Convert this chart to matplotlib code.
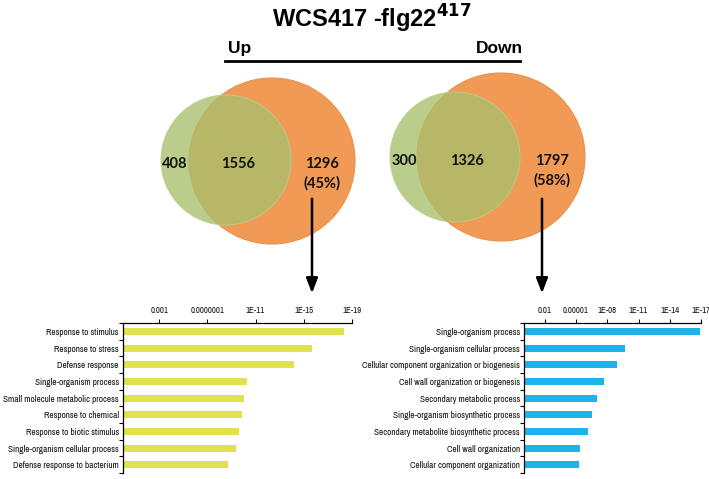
import matplotlib
matplotlib.use("Agg")
import matplotlib.pyplot as plt
from matplotlib.patches import Circle
from matplotlib import font_manager

# Venn counts
up_counts = [408, 1556, 1296]
up_pct = "(45%)"
down_counts = [300, 1326, 1797]
down_pct = "(58%)"

# GO terms, -log10(p)
up_terms = ["Response to stimulus", "Response to stress", "Defense response",
            "Single-organism process", "Small molecule metabolic process",
            "Response to chemical", "Response to biotic stimulus",
            "Single-organism cellular process", "Defense response to bacterium"]
up_logp = [18.3, 15.7, 14.2, 10.3, 10.0, 9.9, 9.6, 9.4, 8.7]
up_ticks = [3, 7, 11, 15, 19]
up_ticklabels = ["0.001", "0.0000001", "1E-11", "1E-15", "1E-19"]

down_terms = ["Single-organism process", "Single-organism cellular process",
              "Cellular component organization or biogenesis",
              "Cell wall organization or biogenesis", "Secondary metabolic process",
              "Single-organism biosynthetic process",
              "Secondary metabolite biosynthetic process",
              "Cell wall organization", "Cellular component organization"]
down_logp = [16.9, 9.7, 8.9, 7.7, 7.0, 6.5, 6.1, 5.4, 5.3]
down_ticks = [2, 5, 8, 11, 14, 17]
down_ticklabels = ["0.01", "0.00001", "1E-08", "1E-11", "1E-14", "1E-17"]

# pick a narrow font that is installed
have = set(f.name for f in font_manager.fontManager.ttflist)
narrow = "DejaVu Sans"
for cand in ["Liberation Sans Narrow", "Arial Narrow", "Archivo Narrow",
             "PT Sans Narrow", "Roboto Condensed", "Asap Condensed",
             "Sofia Sans Condensed"]:
    if cand in have:
        narrow = cand
        break

W, H = 709, 479
fig = plt.figure(figsize=(W / 100, H / 100), dpi=100)

# overlay axes in pixel coordinates for the Venn part
ov = fig.add_axes([0, 0, 1, 1])
ov.set_xlim(0, W)
ov.set_ylim(H, 0)
ov.axis("off")

orange = "#f09a55"
green = (168 / 255, 192 / 255, 109 / 255)

def venn(ax, oc, orr, gc, gr, counts, pct):
    ax.add_patch(Circle(oc, orr, fc=orange, ec="#e8914a", lw=0.8, zorder=1))
    ax.add_patch(Circle(gc, gr, fc=green, ec="#b8cf8a", lw=0.8, alpha=0.78, zorder=2))
    y = gc[1] + 4
    kw = dict(ha="center", va="center", fontsize=10.5, fontweight="bold",
              family="Lato", color="#111111", zorder=3)
    ax.text(gc[0] - gr + 14, y, str(counts[0]), **kw)
    ax.text(gc[0] + 12, y, str(counts[1]), **kw)
    xr = oc[0] + orr - 33
    ax.text(xr, y, str(counts[2]), **kw)
    ax.text(xr, y + 19, pct, **kw)
    ax.annotate("", xy=(xr - 10, 296), xytext=(xr - 10, 196),
                arrowprops=dict(arrowstyle="-|>,head_length=0.9,head_width=0.35",
                                color="black", lw=1.8), zorder=3)

venn(ov, (272, 161), 83, (226, 160), 65, up_counts, up_pct)
venn(ov, (501, 157), 84, (455, 157), 65, down_counts, down_pct)

ov.text(372, 19, r"WCS417 -flg22$^{\mathbf{417}}$", ha="center", va="center",
        fontsize=17, fontweight="bold", family="Liberation Sans")
ov.text(228, 48, "Up", ha="left", va="center", fontsize=12.5,
        fontweight="bold", family="Liberation Sans")
ov.text(523, 48, "Down", ha="right", va="center", fontsize=12.5,
        fontweight="bold", family="Liberation Sans")
ov.plot([225, 520], [61, 61], color="black", lw=2)


def bar_panel(rect, terms, vals, ticks, labels, xmax, color):
    ax = fig.add_axes(rect)
    y = list(range(len(terms)))
    ax.barh(y, vals, height=0.42, color=color)
    ax.set_ylim(len(terms) - 0.5, -0.5)
    ax.set_xlim(0, xmax)
    ax.set_yticks(y)
    ax.set_yticklabels(terms, family=narrow, fontsize=6.7, fontweight="bold",
                       color="#111111")
    ax.set_yticks([i + 0.5 for i in range(-1, len(terms))], minor=True)
    ax.tick_params(axis="y", which="major", length=0, pad=3)
    ax.tick_params(axis="y", which="minor", length=3, width=0.8, direction="out")
    ax.xaxis.tick_top()
    ax.set_xticks(ticks)
    ax.set_xticklabels(labels, family=narrow, fontsize=6.3, fontweight="bold",
                       color="#111111")
    ax.tick_params(axis="x", length=3, width=0.8, direction="out", pad=3)
    for s in ["right", "bottom"]:
        ax.spines[s].set_visible(False)
    ax.spines["left"].set_linewidth(0.9)
    ax.spines["top"].set_linewidth(0.9)
    ax.set_facecolor("none")
    return ax

bar_panel([123 / W, 1 - 473 / H, (352 - 123) / W, 150 / H],
          up_terms, up_logp, up_ticks, up_ticklabels, 19, "#dfe24e")
bar_panel([524 / W, 1 - 473 / H, (701 - 524) / W, 150 / H],
          down_terms, down_logp, down_ticks, down_ticklabels, 17, "#1fb2ec")

fig.savefig("out.png", dpi=100)
